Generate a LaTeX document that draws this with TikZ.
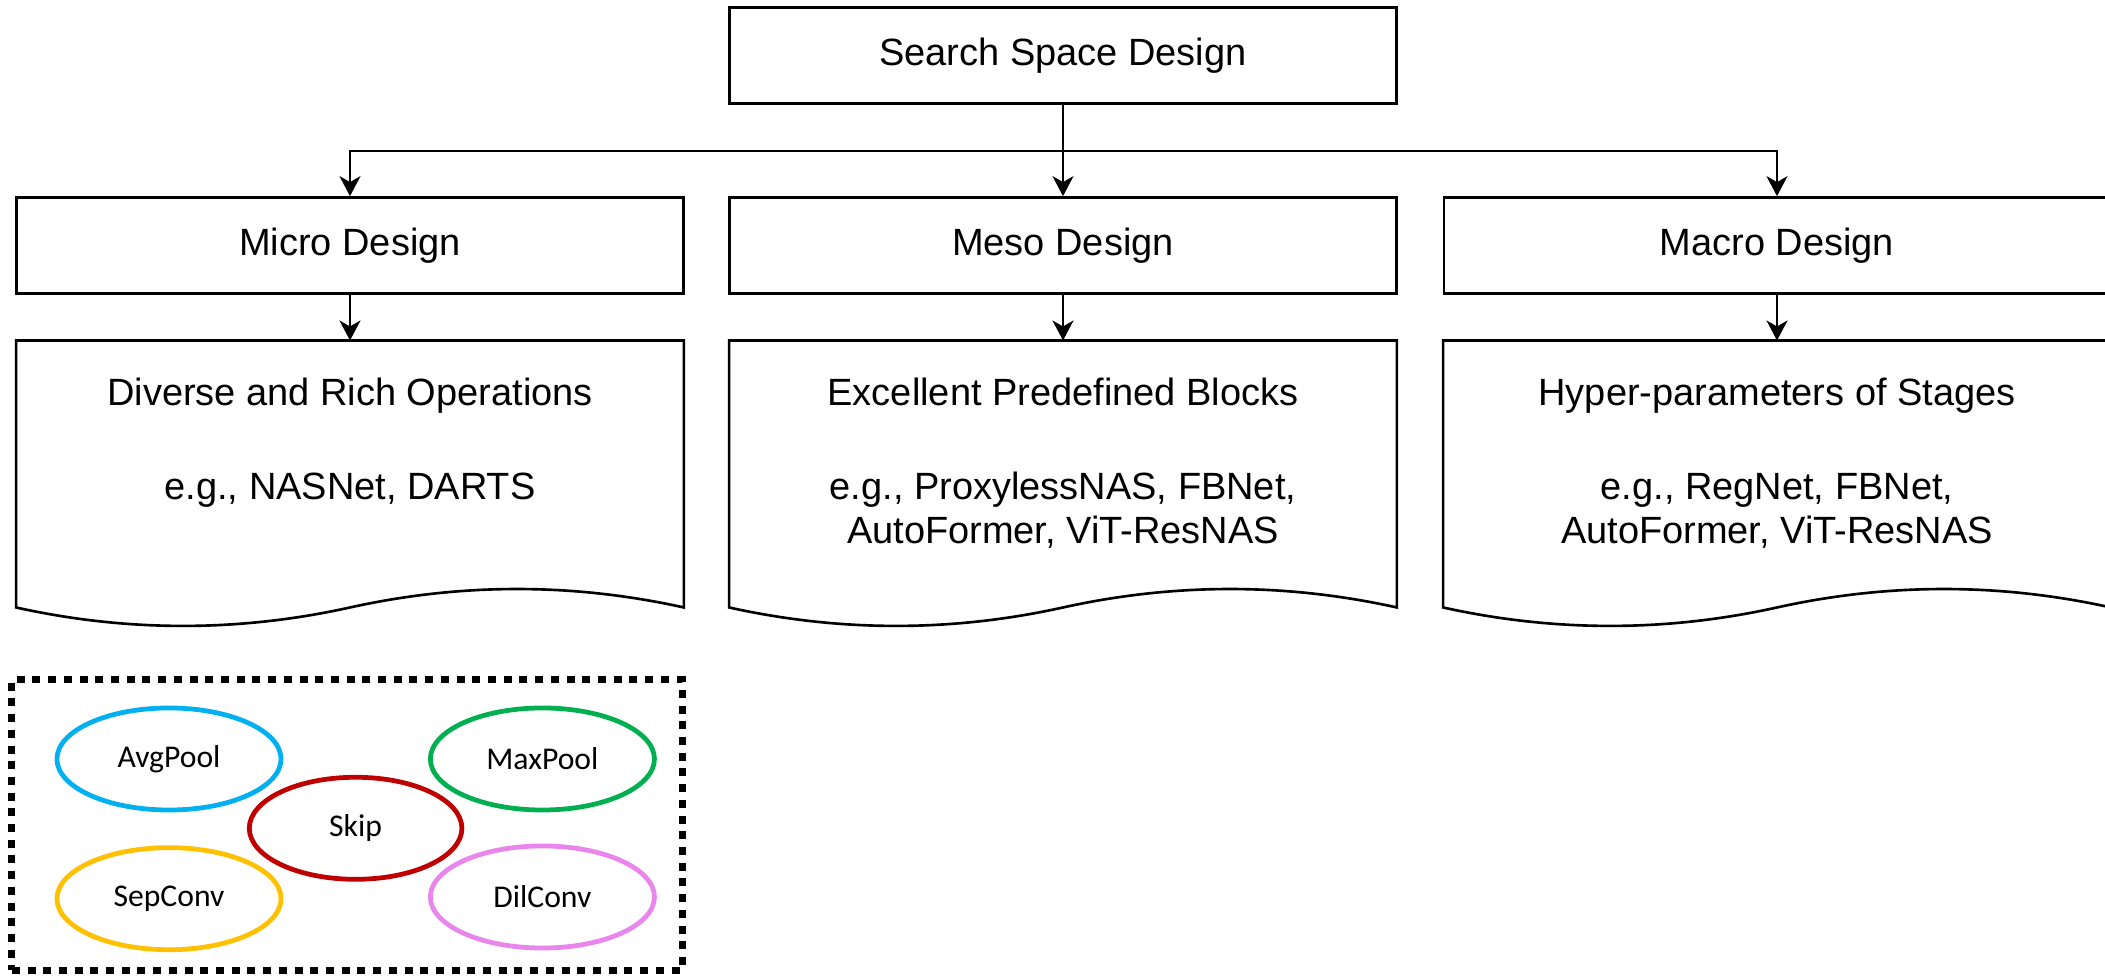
\documentclass[tikz,border=0pt]{standalone}
\usepackage{fontspec}
\setmainfont{Liberation Sans}
\newfontfamily\opfont{Carlito}
\usetikzlibrary{arrows.meta,calc,shapes.geometric}
\definecolor{opblue}{RGB}{0,176,240}
\definecolor{opgreen}{RGB}{0,176,80}
\definecolor{opred}{RGB}{192,0,0}
\definecolor{opyellow}{RGB}{255,192,0}
\definecolor{opviolet}{RGB}{232,134,236}
\begin{document}
\begin{tikzpicture}[x=0.01cm,y=-0.01cm,
  box/.style={draw, line width=0.75pt, rectangle, inner sep=0pt,
    minimum width=6.66cm, minimum height=0.96cm,
    font=\fontsize{10.8pt}{13pt}\selectfont},
  docarea/.style={rectangle, inner sep=0pt, minimum width=6.66cm, minimum height=2.859cm},
  doctext/.style={anchor=base, align=center, inner sep=0pt,
    font=\fontsize{10.8pt}{0.445cm}\selectfont},
  docline/.style={line width=0.75pt, line join=miter},
  arr/.style={line width=0.6pt, -{Stealth[length=0.2cm,width=0.21cm,inset=0.06cm]}},
  op/.style={ellipse, draw, line width=1.35pt, inner sep=0pt,
    minimum width=2.24cm, minimum height=1.02cm,
    font=\opfont\fontsize{9pt}{10pt}\selectfont},
  opframe/.style={draw, line width=2pt, dash pattern=on 0.08cm off 0.077cm,
    inner sep=0pt, minimum width=6.70cm, minimum height=2.90cm}
]
\useasboundingbox[fill=white] (0,0) rectangle (2105,977);

% top level and the three design levels
\node[box] (space) at (1063,55.3) {Search Space Design};
\node[box] (micro) at (350,245.5) {Micro Design};
\node[box] (meso)  at (1063,245.5) {Meso Design};
\node[box] (macro) at (1777,245.5) {Macro Design};

% document-shaped description boxes
\node[docarea] (ops)    at (350,484.25) {};
\node[docarea] (blocks) at (1063,484.25) {};
\node[docarea] (stages) at (1777,484.25) {};
\foreach \n in {ops,blocks,stages}{
  \draw[docline] (\n.north west) -- (\n.north east)
    -- ($(\n.south east)+(0,-20.5)$)
    .. controls ($(\n.south east)+(-111,-45.1)$) and ($(\n.south)+(111,-45.1)$)
    .. ($(\n.south)+(0,-20.5)$)
    .. controls ($(\n.south)+(-111,4.1)$) and ($(\n.south west)+(111,4.1)$)
    .. ($(\n.south west)+(0,-20.5)$) -- cycle;
}
% the base anchor of a multi-line node sits on its last line
\node[doctext] (opsText) at ($(ops.north)+(0,158.7)$)
  {Diverse and Rich Operations\\[0.488cm]e.g., NASNet, DARTS};
\node[doctext] (blocksText) at ($(blocks.north)+(0,203.2)$)
  {Excellent Predefined Blocks\\[0.488cm]e.g., ProxylessNAS, FBNet,\\AutoFormer, ViT-ResNAS};
\node[doctext] (stagesText) at ($(stages.north)+(0,203.2)$)
  {Hyper-parameters of Stages\\[0.488cm]e.g., RegNet, FBNet,\\AutoFormer, ViT-ResNAS};

% connectors
\coordinate (split) at (1063,150.7);
\draw[arr] (space.south) -- (meso.north);
\draw[arr] (split) -| (micro.north);
\draw[arr] (split) -| (macro.north);
\draw[arr] (micro.south) -- (ops.north);
\draw[arr] (meso.south) -- (blocks.north);
\draw[arr] (macro.south) -- (stages.north);

% candidate operations
\node[opframe] (opset) at (347,825) {};
\node[op, draw=opblue] (avg) at (169,759) {AvgPool};
\node[op, draw=opgreen] (max) at (542.4,759) {MaxPool};
\node[op, draw=opred, minimum width=2.125cm] (skip) at (355.6,828.3) {Skip};
\node[op, draw=opyellow] (sep) at (169,898.7) {SepConv};
\node[op, draw=opviolet] (dil) at (542.4,897) {DilConv};
\end{tikzpicture}
\end{document}
